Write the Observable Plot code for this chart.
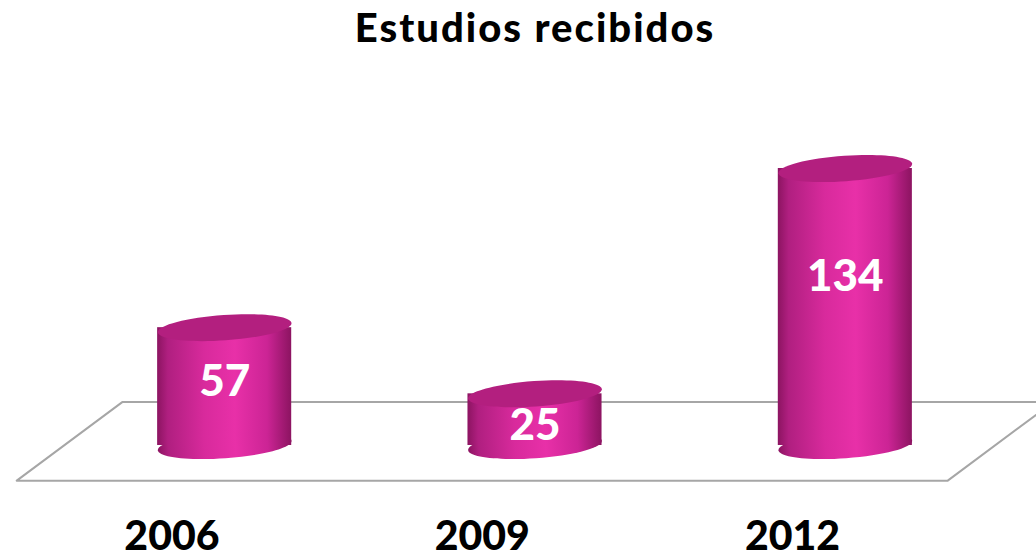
<!DOCTYPE html>
<html>
<head>
<meta charset="utf-8">
<script src="https://cdn.jsdelivr.net/npm/d3@7"></script>
<script src="https://cdn.jsdelivr.net/npm/@observablehq/plot@0.6"></script>
<style>
  html, body { margin: 0; padding: 0; background: #ffffff; }
  #wrap { width: 1036px; height: 559px; overflow: hidden; }
  #title { height: 56px; line-height: 54px; text-align: center; padding-left: 34px; font-family: Lato, "DejaVu Sans", sans-serif; font-weight: 900; font-size: 40px; color: #000; letter-spacing: 2px; }
</style>
</head>
<body>
<div id="wrap">
  <div id="title">Estudios recibidos</div>
  <div id="chart"></div>
</div>
<script>
// ---- data ----
const years = ["2006", "2009", "2012"];
const values = [57, 25, 134];

const data = years.map((year, i) => ({i, year, value: values[i]}));
const n = years.length;

// floor (perspective plane) derived from the category extent
const skew = 0.17, floorFront = -17, floorBack = 21;
const floor = [
  {x: -0.5 - skew, y: floorFront},
  {x: n - 0.5 - skew, y: floorFront},
  {x: n - 0.5 + skew, y: floorBack},
  {x: -0.5 + skew, y: floorBack},
  {x: -0.5 - skew, y: floorFront}
];

const halfW = 0.216;
const ellipse = {
  draw(context, size) {
    const rx = Math.sqrt(size / Math.PI), ry = rx * 0.19, k = 0.5523;
    context.moveTo(rx, 0);
    context.bezierCurveTo(rx, k * ry, k * rx, ry, 0, ry);
    context.bezierCurveTo(-k * rx, ry, -rx, k * ry, -rx, 0);
    context.bezierCurveTo(-rx, -k * ry, -k * rx, -ry, 0, -ry);
    context.bezierCurveTo(k * rx, -ry, rx, -k * ry, rx, 0);
    context.closePath();
  }
};

const svg = Plot.plot({
  width: 1036,
  height: 503,
  marginBottom: 40,
  style: {fontFamily: "Lato, 'DejaVu Sans', sans-serif", fontSize: "41px", fontWeight: "900", color: "#000", background: "transparent", overflow: "hidden"},
  x: {domain: [-0.5, n - 0.5], range: [69, 1000], ticks: d3.range(n).map(i => i - skew), tickFormat: v => years[Math.round(v + skew)], tickSize: 0, tickPadding: 1, label: null},
  y: {domain: [0, d3.max(values)], range: [389, 112], axis: null},
  marks: [
    Plot.line(floor, {x: "x", y: "y", stroke: "#a6a6a6", strokeWidth: 2}),
    Plot.rect(data, {x1: d => d.i - halfW, x2: d => d.i + halfW, y1: 0, y2: "value", fill: "url(#cylGrad)"}),
    Plot.dot(data, {x: "i", y: 0, r: 67, symbol: ellipse, fill: "url(#cylGrad)", rotate: -4}),
    Plot.dot(data, {x: "i", y: "value", r: 67, symbol: ellipse, fill: "#b31f7f", rotate: -4}),
    Plot.text(data, {x: "i", y: d => d.value * 0.66 - 7, text: d => String(d.value), fill: "white", fontSize: 44, fontWeight: "900"})
  ]
});

const defs = d3.select(svg).insert("defs", ":first-child");
const g = defs.append("linearGradient").attr("id", "cylGrad").attr("x1", "0%").attr("x2", "100%").attr("y1", "0%").attr("y2", "0%");
[["0%", "#8c1461"], ["8%", "#b01f80"], ["35%", "#d82a9c"], ["58%", "#e830a8"], ["82%", "#cc2495"], ["100%", "#8c1461"]]
  .forEach(([o, c]) => g.append("stop").attr("offset", o).attr("stop-color", c));

document.getElementById("chart").appendChild(svg);
</script>
</body>
</html>
